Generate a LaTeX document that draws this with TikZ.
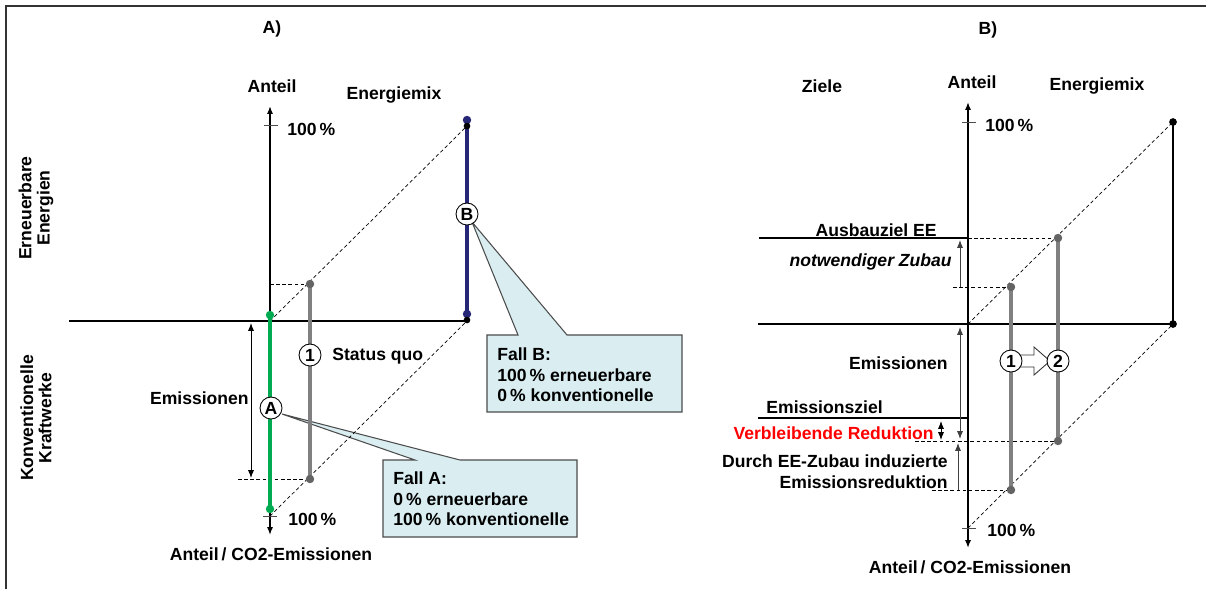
\documentclass[tikz,border=0pt]{standalone}
\usepackage{fontspec}
\setmainfont{Liberation Sans}
\usetikzlibrary{arrows.meta}

\definecolor{fallgreen}{RGB}{0,170,80}
\definecolor{fallblue}{RGB}{38,38,118}
\definecolor{boxfill}{RGB}{218,238,242}
\definecolor{quogray}{RGB}{128,128,128}
\definecolor{dotgray}{RGB}{100,100,100}
\definecolor{redtext}{RGB}{255,0,0}

\tikzset{
  lbl/.style={font=\fontsize{10}{12}\selectfont\bfseries, inner sep=0pt},
  circ/.style={circle, draw, fill=white, line width=0.5pt, minimum size=0.44cm, inner sep=0pt, font=\fontsize{10}{12}\selectfont\bfseries},
  axis/.style={black, line width=1.1pt},
  guide/.style={black, line width=0.4pt, dash pattern=on 2pt off 1.5pt},
  dimline/.style={line width=0.5pt},
  cbox/.style={draw=black!70, fill=boxfill, line width=0.6pt},
}

\begin{document}
\begin{tikzpicture}[x=0.02cm,y=-0.02cm,>={Latex[length=4.5pt,width=3.5pt]}]
\useasboundingbox (0,0) rectangle (1206,589);
\draw[black!80, line width=1.2pt] (6,589) -- (6,6) -- (1206,6);

% ---- A) ----
\node[lbl] (tA) at (272,29) {A)};
\node[lbl] (yA) at (272,86) {Anteil};
\node[lbl] (mixA) at (394,95) {Energiemix};
\node[lbl, rotate=90, align=center, font=\fontsize{10}{10.4}\selectfont\bfseries] (eeA) at (36,208) {Erneuerbare\\Energien};
\node[lbl, rotate=90, align=center, font=\fontsize{10}{10.4}\selectfont\bfseries] (kwA) at (36,418) {Konventionelle\\Kraftwerke};

\draw[cbox] (383,460) -- (415,460) -- (282,414) -- (460,460) -- (577,460) -- (577,537) -- (383,537) -- cycle;
\draw[cbox] (487,335) -- (518,335) -- (472,222) -- (567,335) -- (682,335) -- (682,412) -- (487,412) -- cycle;
\node[lbl, anchor=west, align=left, font=\fontsize{10}{11.7}\selectfont\bfseries] (fallA) at (393,499) {Fall A:\\0\,\% erneuerbare\\100\,\% konventionelle};
\node[lbl, anchor=west, align=left, font=\fontsize{10}{11.7}\selectfont\bfseries] (fallB) at (497,375) {Fall B:\\100\,\% erneuerbare\\0\,\% konventionelle};

\coordinate (aTop) at (270,106);
\coordinate (aBot) at (270,535);
\coordinate (aO) at (270,321);
\coordinate (aX) at (467,321);
\draw[axis, <->] (aTop) -- (aBot);
\draw[axis] (69,321) -- (aX);
\draw[black!70, line width=0.5pt] (264,125) -- (278,125);
\draw[black!70, line width=0.5pt] (263,516) -- (277,516);
\node[lbl, anchor=west] (pA1) at (287,129) {100\,\%};
\node[lbl, anchor=west] (pA2) at (288,519) {100\,\%};
\node[lbl] (xA) at (271,554) {Anteil\,/ CO2-Emissionen};

\draw[guide] (aO) -- (467,126);
\draw[guide] (270,516) -- (aX);
\draw[guide] (270,284) -- (310,284);
\draw[guide] (238,479) -- (310,479);

\draw[dimline, <->] (251,323) -- (251,478);
\node[lbl, anchor=east] (emA) at (249,398) {Emissionen};

\draw[quogray, line width=2.2pt] (310,284) -- (310,479);
\fill[dotgray] (310,284) circle (2.4pt) (310,479) circle (2.4pt);
\draw[fallgreen, line width=2.3pt] (270,315) -- (270,509);
\fill[fallgreen] (270,315) circle (2.4pt) (270,509) circle (2.4pt);
\draw[fallblue, line width=2.3pt] (467,120) -- (467,314);
\fill[fallblue] (467,120) circle (2.4pt) (467,314) circle (2.4pt);
\fill[black] (467,126) circle (1.9pt) (467,320) circle (1.9pt);

\node[circ] (cA) at (271,408) {A};
\node[circ] (cB) at (467,214) {B};
\node[circ] (c1A) at (310,355) {1};
\node[lbl, anchor=west] (sq) at (332,356) {Status quo};

% ---- B) ----
\node[lbl] (tB) at (988,30) {B)};
\node[lbl] (zB) at (822,86) {Ziele};
\node[lbl] (yB) at (972,82) {Anteil};
\node[lbl] (mixB) at (1097,86) {Energiemix};

\coordinate (bTop) at (968,102);
\coordinate (bBot) at (968,548);
\coordinate (bO) at (968,324);
\coordinate (bX) at (1173,324);
\draw[axis, <->] (bTop) -- (bBot);
\draw[axis] (758,324) -- (bX);
\draw[black!70, line width=0.5pt] (962,122) -- (976,122);
\draw[black!70, line width=0.5pt] (962,528) -- (976,528);
\node[lbl, anchor=west] (pB1) at (985,125) {100\,\%};
\node[lbl, anchor=west] (pB2) at (987,530) {100\,\%};
\node[lbl] (xB) at (970,567) {Anteil\,/ CO2-Emissionen};

\draw[guide] (bO) -- (1173,122);
\draw[guide] (968,528) -- (bX);
\draw[black, line width=1.3pt] (1173,122) -- (bX);
\fill[black] (1173,122) circle (2.2pt) (bX) circle (2.2pt);

\draw[black, line width=0.6pt] (759,238) -- (968,238);
\draw[guide] (968,238) -- (1058,238);
\draw[guide] (953,287) -- (1011,287);
\draw[black, line width=0.6pt] (758,418) -- (969,418);
\draw[guide] (915,441) -- (1058,441);
\draw[guide] (932,490) -- (1011,490);

\draw[black!75, dimline, ->] (960,287) -- (960,240);
\draw[black!75, dimline, <->] (960,327) -- (960,439);
\draw[black, dimline, <->] (941,421) -- (941,440);
\draw[black!75, dimline, ->] (958,490) -- (958,443);

\node[lbl, anchor=east] (ausbau) at (937,230) {Ausbauziel EE};
\node[lbl, anchor=east, font=\fontsize{10}{12}\selectfont\bfseries\itshape] (zubau) at (952,262) {notwendiger Zubau};
\node[lbl, anchor=east] (emB) at (948,363) {Emissionen};
\node[lbl, anchor=east] (ziel) at (883,407) {Emissionsziel};
\node[lbl, anchor=east, text=redtext] (rest) at (934,433) {Verbleibende Reduktion};
\node[lbl, anchor=east, align=right] (induz) at (948,472) {Durch EE-Zubau induzierte\\Emissionsreduktion};

\draw[quogray, line width=1.9pt] (1011,287) -- (1011,490);
\fill[dotgray] (1011,287) circle (2.4pt) (1011,490) circle (2.4pt);
\draw[quogray, line width=1.9pt] (1058,238) -- (1058,441);
\fill[dotgray] (1058,238) circle (2.4pt) (1058,441) circle (2.4pt);

\draw[black!80, fill=white, line width=0.5pt] (1019,355) -- (1034,355) -- (1034,347) -- (1050,361) -- (1034,375) -- (1034,367) -- (1019,367) -- cycle;
\node[circ] (c1B) at (1011,361) {1};
\node[circ] (c2B) at (1058,361) {2};
\end{tikzpicture}
\end{document}
